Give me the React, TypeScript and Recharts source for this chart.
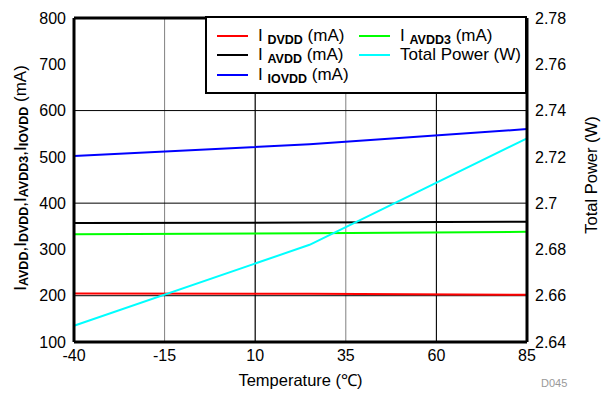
import {
  LineChart,
  Line,
  XAxis,
  YAxis,
  CartesianGrid,
  ReferenceLine,
} from "recharts";

const temps = [-40, 25, 85];
const iDvdd = [205, 204, 202];
const iAvdd = [357, 358, 360];
const iAvdd3 = [333, 335, 338];
const iIovdd = [502, 527, 560];
const totalPower = [2.647, 2.682, 2.728];

const xTicks = [-40, -15, 10, 35, 60, 85];
const leftTicks = [100, 200, 300, 400, 500, 600, 700, 800];
const rightTicks = [2.64, 2.66, 2.68, 2.7, 2.72, 2.74, 2.76, 2.78];
const darkGridY = [200, 400, 600];
const darkGridX = [10, 60];

const FONT = '"Liberation Sans", Arial, sans-serif';

const data = temps.map((t, i) => ({
  temp: t,
  dvdd: iDvdd[i],
  avdd: iAvdd[i],
  avdd3: iAvdd3[i],
  iovdd: iIovdd[i],
  power: totalPower[i],
}));

// legend order is column-major: DVDD, AVDD, IOVDD | AVDD3, Total Power
const series = [
  { key: "dvdd", sub: "DVDD", color: "#ff0000", axis: "left" },
  { key: "avdd", sub: "AVDD", color: "#000000", axis: "left" },
  { key: "iovdd", sub: "IOVDD", color: "#0000ff", axis: "left" },
  { key: "avdd3", sub: "AVDD3", color: "#00ff00", axis: "left" },
  { key: "power", sub: "", color: "#00ffff", axis: "right" },
];

function LeftTitle({ viewBox }: any) {
  const vb = viewBox || { x: 0, y: 18, width: 74, height: 324 };
  const cx = vb.x + 26;
  const cy = vb.y + vb.height / 2 - 2;
  const subs = ["AVDD", "DVDD", "AVDD3", "IOVDD"];
  return (
    <text
      x={cx}
      y={cy}
      transform={`rotate(-90 ${cx} ${cy})`}
      textAnchor="middle"
      fontFamily={FONT}
      fontSize={17}
      fill="#000"
    >
      {subs.map((s, i) => (
        <tspan key={s}>
          <tspan dy={i === 0 ? 0 : -2}>{i === 0 ? "I" : ",I"}</tspan>
          <tspan dy={2} fontSize={12.5} fontWeight="bold">
            {s}
          </tspan>
        </tspan>
      ))}
      <tspan dy={-2}> (mA)</tspan>
    </text>
  );
}

function RightTitle({ viewBox }: any) {
  const vb = viewBox || { x: 527, y: 18, width: 76, height: 324 };
  const cx = vb.x + 70;
  const cy = vb.y + vb.height / 2 - 5;
  return (
    <text
      x={cx}
      y={cy}
      transform={`rotate(-90 ${cx} ${cy})`}
      textAnchor="middle"
      fontFamily={FONT}
      fontSize={16.5}
      fill="#000"
    >
      Total Power (W)
    </text>
  );
}

function BottomTitle({ viewBox }: any) {
  const vb = viewBox || { x: 74, y: 342, width: 453, height: 53 };
  return (
    <text
      x={vb.x + vb.width / 2}
      y={vb.y + 44}
      textAnchor="middle"
      fontFamily={FONT}
      fontSize={16.5}
      fill="#000"
    >
      Temperature (℃)
    </text>
  );
}

function LegendBox() {
  return (
    <div
      style={{
        position: "absolute",
        left: 205,
        top: 16,
        width: 322,
        height: 78,
        boxSizing: "border-box",
        border: "2px solid #000",
        background: "#fff",
        padding: "8px 0 0 10px",
        display: "grid",
        gridAutoFlow: "column",
        gridTemplateRows: "repeat(3, 19.5px)",
        gridTemplateColumns: "142px auto",
        fontFamily: FONT,
        fontSize: 17,
        color: "#000",
      }}
    >
      {series.map((s) => (
        <div key={s.key} style={{ display: "flex", alignItems: "center", whiteSpace: "nowrap" }}>
          <span style={{ width: 31, height: 2, background: s.color, marginRight: 10 }} />
          {s.sub ? (
            <span>
              I{" "}
              <b style={{ fontSize: 12.5, position: "relative", top: 3 }}>{s.sub}</b> (mA)
            </span>
          ) : (
            <span>Total Power (W)</span>
          )}
        </div>
      ))}
    </div>
  );
}

export default function App() {
  const tick = { fontSize: 16, fill: "#000", fontFamily: FONT };
  const frame = { stroke: "#000", strokeWidth: 3 };
  return (
    <div style={{ position: "absolute", left: 0, top: 0, width: 603, height: 395, background: "#fff" }}>
      <LineChart width={603} height={395} data={data} margin={{ top: 18, right: 0, bottom: 0, left: 0 }}>
        <CartesianGrid stroke="#808080" strokeWidth={1} />
        {darkGridY.map((v) => (
          <ReferenceLine key={`y${v}`} yAxisId="left" y={v} stroke="#000" strokeWidth={1} />
        ))}
        {darkGridX.map((v) => (
          <ReferenceLine key={`x${v}`} yAxisId="left" x={v} stroke="#000" strokeWidth={1} />
        ))}
        <ReferenceLine yAxisId="left" y={800} stroke="#000" strokeWidth={3} />
        <XAxis
          dataKey="temp"
          type="number"
          domain={[-40, 85]}
          ticks={xTicks}
          height={53}
          tick={tick}
          tickLine={false}
          axisLine={frame}
          label={{ content: (p: any) => <BottomTitle viewBox={p.viewBox} /> }}
        />
        <YAxis
          yAxisId="left"
          domain={[100, 800]}
          ticks={leftTicks}
          width={74}
          tick={tick}
          tickLine={false}
          axisLine={frame}
          label={{ content: (p: any) => <LeftTitle viewBox={p.viewBox} /> }}
        />
        <YAxis
          yAxisId="right"
          orientation="right"
          domain={[2.64, 2.78]}
          ticks={rightTicks}
          width={76}
          tick={tick}
          tickLine={false}
          tickFormatter={(v: number) => String(Number(v.toFixed(2)))}
          axisLine={frame}
          label={{ content: (p: any) => <RightTitle viewBox={p.viewBox} /> }}
        />
        {series.map((s) => (
          <Line
            key={s.key}
            yAxisId={s.axis}
            dataKey={s.key}
            type="linear"
            stroke={s.color}
            strokeWidth={2}
            dot={false}
            isAnimationActive={false}
          />
        ))}
      </LineChart>
      <LegendBox />
      <div
        style={{
          position: "absolute",
          left: 541,
          top: 377,
          fontFamily: FONT,
          fontSize: 11,
          color: "#999",
        }}
      >
        D045
      </div>
    </div>
  );
}
